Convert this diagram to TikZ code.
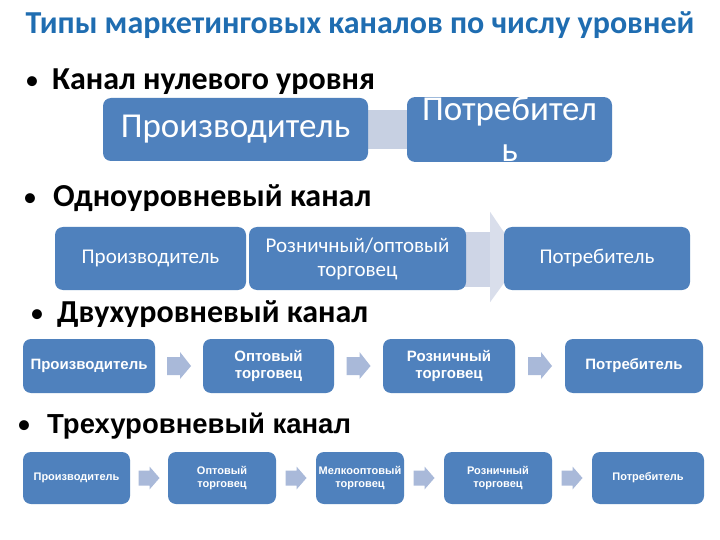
\documentclass[tikz,border=0pt]{standalone}
\usepackage{fontspec}
\setmainfont{Carlito}
\newfontfamily\arialf{Liberation Sans}
\usetikzlibrary{backgrounds,calc}
\definecolor{boxblue}{HTML}{4F81BD}
\definecolor{titleblue}{HTML}{1F6DB1}
\definecolor{connlight}{HTML}{C7D0E2}
\definecolor{arrlight}{HTML}{CED5E6}
\definecolor{arrhead}{HTML}{D9DEEB}
\definecolor{chev}{HTML}{A9B9D9}
\tikzset{
  box/.style={rectangle, rounded corners=8pt, fill=boxblue, text=white, inner sep=0pt, align=center},
  bigf/.style={font=\fontsize{35}{41}\selectfont},
  midf/.style={font=\fontsize{21}{24}\selectfont},
  smf/.style={font=\arialf\bfseries\fontsize{15}{17}\selectfont},
  tinyf/.style={font=\arialf\bfseries\fontsize{11}{13}\selectfont},
  head/.style={anchor=base west, inner sep=0pt, font=\bfseries\fontsize{32}{36}\selectfont},
  headar/.style={anchor=base west, inner sep=0pt, font=\arialf\bfseries\fontsize{27.5}{30}\selectfont},
  bul/.style={anchor=base, inner sep=0pt, font=\fontsize{28}{30}\selectfont}
}
\begin{document}
\begin{tikzpicture}[x=1pt,y=-1pt]
\useasboundingbox (0,0) rectangle (720,540);
\begin{scope}[on background layer]
  \fill[white] (0,0) rectangle (720,540);
\end{scope}

% title
\node[anchor=base, inner sep=0pt, text=titleblue, font=\bfseries\fontsize{32}{36}\selectfont] (title) at (360,34) {Типы маркетинговых каналов по числу уровней};

% headings
\node[bul] (b1) at (32,90) {•};
\node[head] (h1) at (52,90) {Канал нулевого уровня};
\node[bul] (b2) at (30,207) {•};
\node[head] (h2) at (53,207) {Одноуровневый канал};
\node[bul] (b3) at (37,322) {•};
\node[head] (h3) at (57,322) {Двухуровневый канал};
\node[bul] (b4) at (24,433) {•};
\node[headar] (h4) at (47,433) {Трехуровневый канал};

% row 1
\node[box, bigf, minimum width=265pt, minimum height=63pt] (p0) at (235.5,129.5) {Производитель};
\node[box, bigf, minimum width=205pt, minimum height=63pt] (c0) at (509.5,129.5) {Потребител\\ь};
\begin{scope}[on background layer]
  \draw[connlight, line width=39pt] (p0.center) -- (c0.center);
\end{scope}

% row 2
\node[box, midf, minimum width=191pt, minimum height=63pt] (p1) at (150.5,258.5) {Производитель};
\node[box, midf, minimum width=217pt, minimum height=63pt] (r1) at (357.5,258.5) {Розничный/оптовый\\торговец};
\node[box, midf, minimum width=186pt, minimum height=63pt] (c1) at (597,258.5) {Потребитель};
\begin{scope}[on background layer]
  \fill[arrlight] ($(r1.east)+(-2,-26.5)$) rectangle ($(r1.east)+(24,28.5)$);
  \fill[arrhead] ($(r1.east)+(24,-46.5)$) -- ($(c1.west)+(18,0)$) -- ($(r1.east)+(24,43.5)$) -- cycle;
\end{scope}

% row 3
\node[box, smf, minimum width=132pt, minimum height=54pt] (p2) at (89,366) {Производитель};
\node[box, smf, minimum width=131pt, minimum height=54pt] (o2) at (268.5,366) {Оптовый\\торговец};
\node[box, smf, minimum width=132pt, minimum height=54pt] (r2) at (449,366) {Розничный\\торговец};
\node[box, smf, minimum width=138pt, minimum height=54pt] (c2) at (634,366) {Потребитель};
\foreach \a/\b in {p2/o2, o2/r2, r2/c2}{
  \fill[chev] ($(\a.east)!0.5!(\b.west)+(-12,-9)$) -- ++(13,0) -- ++(0,-5) -- ++(11,14) -- ++(-11,13) -- ++(0,-4) -- ++(-13,0) -- cycle;
}

% row 4
\node[box, tinyf, minimum width=107pt, minimum height=52pt] (p3) at (76.5,478) {Производитель};
\node[box, tinyf, minimum width=108pt, minimum height=52pt] (o3) at (222,478) {Оптовый\\торговец};
\node[box, tinyf, minimum width=88pt, minimum height=52pt] (m3) at (360,478) {Мелкооптовый\\торговец};
\node[box, tinyf, minimum width=108pt, minimum height=52pt] (r3) at (498,478) {Розничный\\торговец};
\node[box, tinyf, minimum width=112pt, minimum height=52pt] (c3) at (648,478) {Потребитель};
\foreach \a/\b in {p3/o3, o3/m3, m3/r3, r3/c3}{
  \fill[chev] ($(\a.east)!0.5!(\b.west)+(-10.5,-7.5)$) -- ++(11,0) -- ++(0,-4) -- ++(10,11.5) -- ++(-10,11.5) -- ++(0,-4) -- ++(-11,0) -- cycle;
}
\end{tikzpicture}
\end{document}
